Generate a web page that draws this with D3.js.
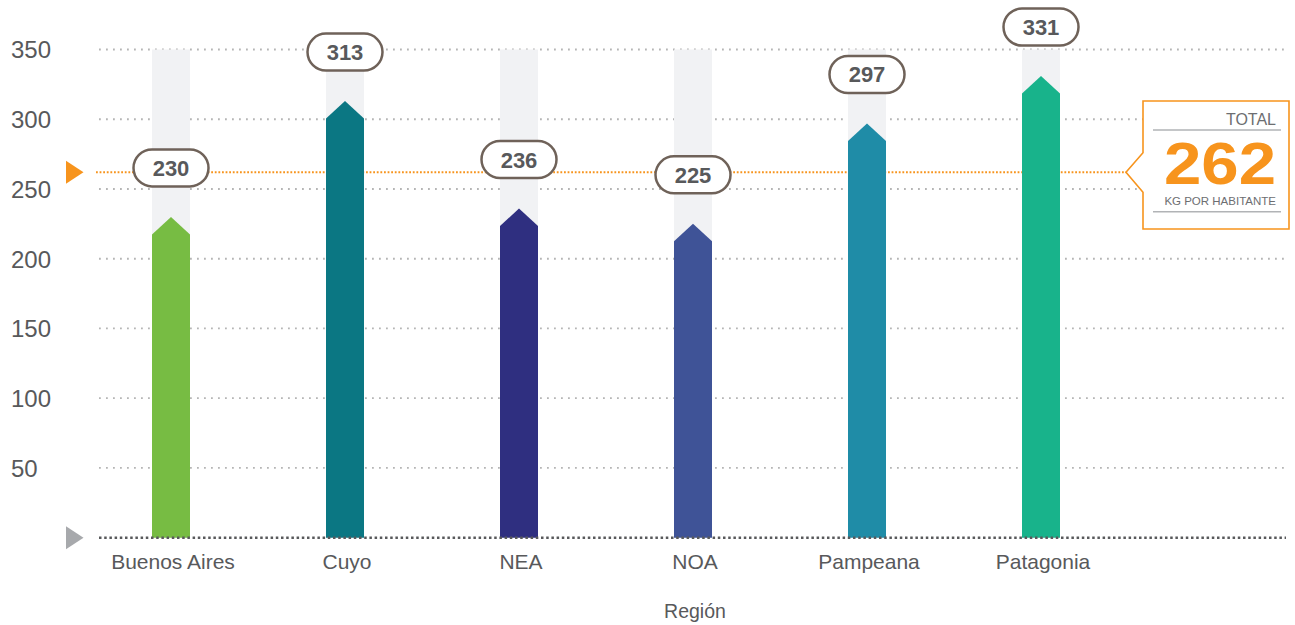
<!DOCTYPE html>
<html>
<head>
<meta charset="utf-8">
<script src="https://cdn.jsdelivr.net/npm/d3@7"></script>
<style>
  html, body { margin: 0; padding: 0; background: #ffffff; }
  svg { display: block; font-family: "Liberation Sans", Arial, sans-serif; }
</style>
</head>
<body>
<svg id="chart" width="1295" height="625"></svg>
<script>
// ---- data ----
const categories = ["Buenos Aires", "Cuyo", "NEA", "NOA", "Pampeana", "Patagonia"];
const values = [230, 313, 236, 225, 297, 331];
const barColors = ["#77bc43", "#0b7783", "#2f2f80", "#3f5397", "#1f8ca7", "#18b38b"];
const yTicks = [50, 100, 150, 200, 250, 300, 350];
const totalValue = 262;
const totalTitle = "TOTAL";
const totalUnit = "KG POR HABITANTE";
const xTitle = "Región";

// ---- layout ----
const svg = d3.select("#chart");
const y = d3.scaleLinear().domain([0, 350]).range([537.7, 49.5]);
const x = d3.scalePoint().domain(categories).range([171, 1041]);
const barW = 38, tipH = 17.5;
const gridX0 = 99, gridX1 = 1287;
const textGray = "#58595b";
const orange = "#f7941d";

// gridlines
svg.append("g").selectAll("line").data(yTicks).join("line")
  .attr("x1", gridX0).attr("x2", gridX1)
  .attr("y1", d => y(d)).attr("y2", d => y(d))
  .attr("stroke", "#b5b5b5").attr("stroke-width", 1.8)
  .attr("stroke-dasharray", "1.8,5.2");

// y tick labels
svg.append("g").selectAll("text").data(yTicks).join("text")
  .attr("x", 11).attr("y", d => y(d) + 8.8)
  .attr("font-size", 24).attr("fill", textGray)
  .text(d => d);

// average line
const avgY = y(totalValue);
svg.append("line")
  .attr("x1", 96).attr("x2", 1143).attr("y1", avgY).attr("y2", avgY)
  .attr("stroke", orange).attr("stroke-width", 1.8)
  .attr("stroke-dasharray", "1.8,1.8");

// left markers
svg.append("path")
  .attr("d", `M66,${avgY - 11.5} L83.5,${avgY} L66,${avgY + 11.5} Z`)
  .attr("fill", orange);
svg.append("path")
  .attr("d", `M66,${y(0) - 11.5} L83.5,${y(0)} L66,${y(0) + 11.5} Z`)
  .attr("fill", "#a7a9ac");

// background columns
svg.append("g").selectAll("rect").data(categories).join("rect")
  .attr("x", d => x(d) - barW / 2).attr("width", barW)
  .attr("y", y(350)).attr("height", y(0) - y(350))
  .attr("fill", "#f1f2f4");

// bars (arrow-topped)
svg.append("g").selectAll("path").data(values).join("path")
  .attr("d", (v, i) => {
    const cx = x(categories[i]), t = y(v), b = y(0);
    return `M${cx - barW / 2},${b} L${cx - barW / 2},${t + tipH} L${cx},${t} L${cx + barW / 2},${t + tipH} L${cx + barW / 2},${b} Z`;
  })
  .attr("fill", (v, i) => barColors[i]);

// baseline
svg.append("line")
  .attr("x1", gridX0).attr("x2", 1286).attr("y1", y(0)).attr("y2", y(0))
  .attr("stroke", "#58595b").attr("stroke-width", 2.6)
  .attr("stroke-dasharray", "2.5,2.7");

// value pills
const pills = svg.append("g").selectAll("g").data(values).join("g")
  .attr("transform", (v, i) => `translate(${x(categories[i])},${y(v) - 49})`);
pills.append("rect")
  .attr("x", -37.5).attr("y", -18.5).attr("width", 75).attr("height", 37)
  .attr("rx", 18.5).attr("ry", 18.5)
  .attr("fill", "#ffffff").attr("stroke", "#6f6259").attr("stroke-width", 2.5);
pills.append("text")
  .attr("text-anchor", "middle").attr("y", 8)
  .attr("font-size", 22).attr("font-weight", "bold").attr("fill", textGray)
  .text(v => v);

// category labels
svg.append("g").selectAll("text").data(categories).join("text")
  .attr("x", d => x(d) + 2).attr("y", 569.3)
  .attr("text-anchor", "middle").attr("font-size", 21).attr("fill", textGray)
  .text(d => d);

// x title
svg.append("text")
  .attr("x", 695).attr("y", 617.7).attr("text-anchor", "middle")
  .attr("font-size", 19.5).attr("fill", textGray)
  .text(xTitle);

// total callout box
const bx0 = 1143, bx1 = 1289, by0 = 101, by1 = 229;
svg.append("path")
  .attr("d", `M${bx0},${by0} L${bx1},${by0} L${bx1},${by1} L${bx0},${by1} L${bx0},${avgY + 20} L1126,${avgY} L${bx0},${avgY - 19.5} Z`)
  .attr("fill", "#ffffff").attr("stroke", orange).attr("stroke-width", 1.6);
svg.append("text")
  .attr("x", 1276).attr("y", 124.5).attr("text-anchor", "end")
  .attr("font-size", 16).attr("fill", "#6d6e71")
  .text(totalTitle);
svg.append("line")
  .attr("x1", 1153).attr("x2", 1281).attr("y1", 130).attr("y2", 130)
  .attr("stroke", "#b1b3b6").attr("stroke-width", 1.5);
svg.append("text")
  .attr("x", 1276).attr("y", 183.5).attr("text-anchor", "end")
  .attr("font-size", 60).attr("font-weight", "bold").attr("fill", orange)
  .attr("textLength", 112).attr("lengthAdjust", "spacingAndGlyphs")
  .text(totalValue);
svg.append("text")
  .attr("x", 1276).attr("y", 204.5).attr("text-anchor", "end")
  .attr("font-size", 11.5).attr("fill", "#6d6e71")
  .text(totalUnit);
svg.append("line")
  .attr("x1", 1153).attr("x2", 1281).attr("y1", 211.7).attr("y2", 211.7)
  .attr("stroke", "#b1b3b6").attr("stroke-width", 1.5);
</script>
</body>
</html>
